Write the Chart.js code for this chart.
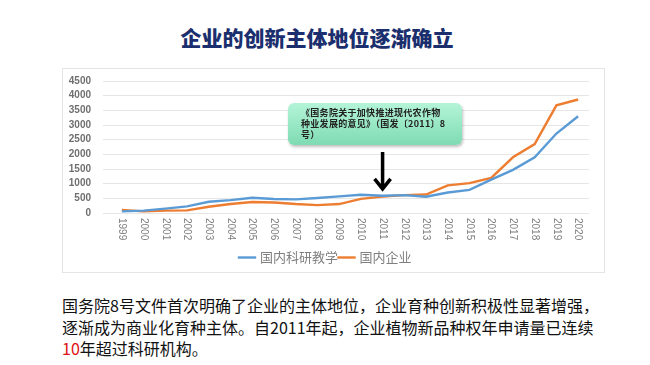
<!DOCTYPE html>
<html>
<head>
<meta charset="utf-8">
<script src="https://cdn.jsdelivr.net/npm/chart.js@4.4.0/dist/chart.umd.min.js"></script>
<style>
  body { margin: 0; width: 650px; height: 365px; background: #fff; position: relative; overflow: hidden;
         font-family: "Noto Sans CJK SC", "Noto Sans", sans-serif; }
  #title { position: absolute; left: 0; width: 634px; top: 22px; text-align: center;
           font-size: 21px; font-weight: 900; color: #1b2f6e; }
  #chartBox { position: absolute; left: 62px; top: 68px; width: 543px; height: 205px;
              border: 1px solid #e4e4e4; box-sizing: border-box; }
  #chartBox canvas { position: absolute; left: 0; top: -6px; }
  #note { position: absolute; left: 288px; top: 103px; width: 174px; height: 42px; box-sizing: border-box;
          border-radius: 6px; padding: 4px 0 0 13px; font-size: 9px; line-height: 11px; font-weight: bold;
          letter-spacing: 0.3px; color: #222; white-space: nowrap;
          background: linear-gradient(#b4f4d8, #7edbb2); box-shadow: 1px 2px 3px rgba(0,0,0,0.25); }
  #text { position: absolute; left: 62px; top: 295px; width: 600px; font-size: 16px; line-height: 21.5px;
          color: #111; white-space: nowrap; }
  #text .red { color: #e01010; }
</style>
</head>
<body>
<div id="title">企业的创新主体地位逐渐确立</div>
<div id="chartBox"><canvas id="graficoLineas" width="541" height="213"></canvas></div>
<div id="note">《国务院关于加快推进现代农作物<br>种业发展的意见》（国发〔2011〕8<br>号）</div>
<div id="text">国务院8号文件首次明确了企业的主体地位，企业育种创新积极性显著增强，<br>逐渐成为商业化育种主体。自2011年起，企业植物新品种权年申请量已连续<br><span class="red">10</span>年超过科研机构。</div>
<script>
const years = ["1999","2000","2001","2002","2003","2004","2005","2006","2007","2008","2009","2010",
  "2011","2012","2013","2014","2015","2016","2017","2018","2019","2020"];
const keyanJiaoxue = [55, 80, 150, 225, 385, 440, 520, 475, 465, 510, 565, 620,
  590, 610, 555, 700, 790, 1140, 1470, 1900, 2710, 3300];
const guoneiQiye = [100, 55, 80, 90, 215, 305, 375, 360, 305, 270, 305, 480,
  560, 610, 630, 940, 1020, 1200, 1900, 2350, 3670, 3870];
const seriesNames = ["国内科研教学", "国内企业"];
const arrowYear = "2011";

// flecha negra encima del año 2011
const flecha = {
  id: "flecha",
  afterDatasetsDraw(chart) {
    const ctx = chart.ctx;
    const x = chart.scales.x.getPixelForValue(years.indexOf(arrowYear));
    const top = chart.scales.y.getPixelForValue(2080);
    const bottom = chart.scales.y.getPixelForValue(790);
    ctx.save();
    ctx.strokeStyle = "#000";
    ctx.lineWidth = 3.5;
    ctx.lineJoin = "miter";
    ctx.beginPath();
    ctx.moveTo(x, top);
    ctx.lineTo(x, bottom - 3);
    ctx.moveTo(x - 8, bottom - 11);
    ctx.lineTo(x, bottom - 1);
    ctx.lineTo(x + 8, bottom - 11);
    ctx.stroke();
    ctx.restore();
  },
};

// años girados en sentido horario (se leen de arriba hacia abajo)
const etiquetasX = {
  id: "etiquetasX",
  afterDraw(chart) {
    const ctx = chart.ctx;
    const xs = chart.scales.x;
    ctx.save();
    ctx.fillStyle = "#7f7f7f";
    ctx.font = "10px 'Liberation Sans'";
    ctx.textAlign = "left";
    ctx.textBaseline = "middle";
    years.forEach((y, i) => {
      ctx.save();
      ctx.translate(xs.getPixelForValue(i), xs.top + 5);
      ctx.rotate(Math.PI / 2);
      ctx.fillText(y, 0, 0);
      ctx.restore();
    });
    ctx.restore();
  },
};

const ctx = document.getElementById("graficoLineas").getContext("2d");
new Chart(ctx, {
  type: "line",
  data: {
    labels: years,
    datasets: [
      { label: seriesNames[0], data: keyanJiaoxue, borderColor: "#5b9bd5", backgroundColor: "#5b9bd5",
        borderWidth: 2.4, pointRadius: 0, tension: 0 },
      { label: seriesNames[1], data: guoneiQiye, borderColor: "#ed7d31", backgroundColor: "#ed7d31",
        borderWidth: 2.4, pointRadius: 0, tension: 0 },
    ],
  },
  options: {
    responsive: false,
    animation: false,
    layout: { padding: { left: 0, right: 15, top: 6, bottom: 2 } },
    scales: {
      x: {
        offset: true,
        grid: { display: false },
        border: { display: false },
        ticks: { color: "rgba(0,0,0,0)", minRotation: 90, maxRotation: 90, font: { size: 10 } },
        afterFit: (scale) => { scale.height = 36; },
      },
      y: {
        min: 0, max: 4500,
        border: { display: false },
        grid: { color: "#e6e6e6" },
        afterFit: (scale) => { scale.width = 48; },
        ticks: { stepSize: 500, autoSkip: false, color: "#6f6f6f", padding: 12,
                 font: { size: 10, weight: "bold", family: "Liberation Sans" },
                 callback: (v) => String(v) },
      },
    },
    plugins: {
      legend: {
        position: "bottom",
        labels: { usePointStyle: true, pointStyle: "line", boxWidth: 32, color: "#7f7f7f",
                  font: { size: 13, family: "Noto Sans CJK SC" }, padding: 2 },
      },
      tooltip: { enabled: false },
    },
  },
  plugins: [flecha, etiquetasX],
});
</script>
</body>
</html>
